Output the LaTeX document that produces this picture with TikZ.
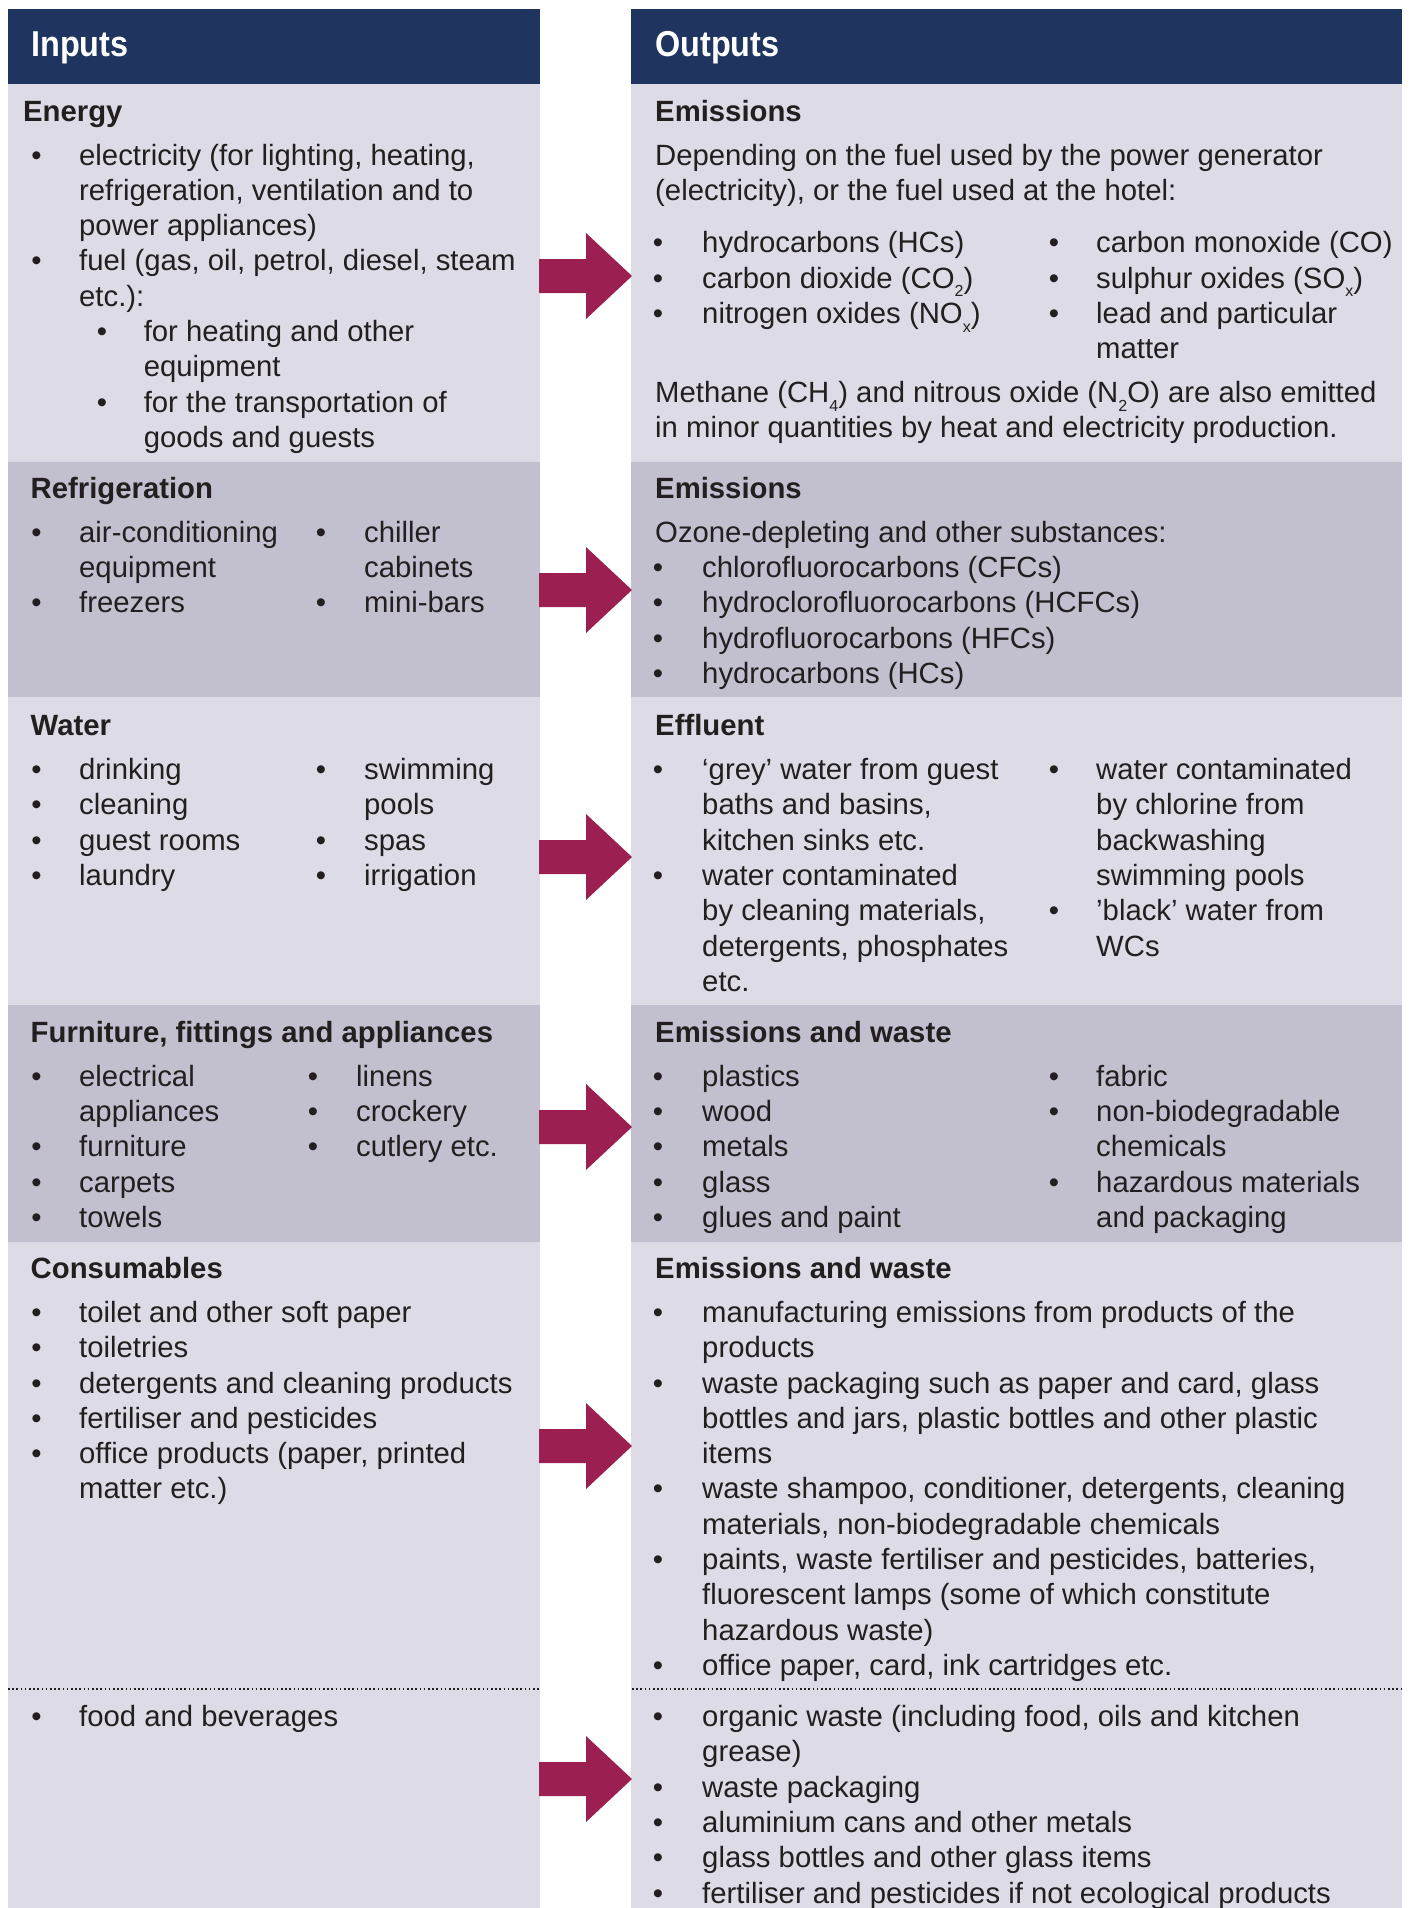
\documentclass[tikz,border=0pt]{standalone}
\usepackage{fontspec}
\setmainfont{Liberation Sans}
\newfontfamily\hdfont{Liberation Sans}[FakeStretch=0.9]
\definecolor{navy}{RGB}{31,53,96}
\definecolor{lightbg}{RGB}{221,220,230}
\definecolor{darkbg}{RGB}{194,191,207}
\definecolor{arrowcol}{RGB}{155,31,80}
\definecolor{textcol}{RGB}{35,31,32}
\newcounter{tl}
\newcommand\Tl[3]{\stepcounter{tl}\node[txt] (t\arabic{tl}) at (#1,#2) {#3};}
\newcommand\Bu[2]{\stepcounter{tl}\node[bul] (b\arabic{tl}) at (#1,#2) {•};}
\newcommand\BT[4]{\Bu{#1}{#3}\Tl{#2}{#3}{#4}}
\newcommand\Hd[3]{\stepcounter{tl}\node[hd] (h\arabic{tl}) at (#1,#2) {#3};}
\newcommand\lowsub[1]{\raisebox{-0.3em}{\fontsize{16}{16}\selectfont #1}}
\newcommand\ArrowAt[2]{\fill[arrowcol] (539,#1-17) -- (586,#1-17) -- (586,#1-43) -- (632,#1) -- (586,#1+43) -- (586,#1+17) -- (539,#1+17) -- cycle; \coordinate (#2) at (632,#1);}
\tikzset{
  txt/.style={anchor=base west, inner sep=0pt, text=textcol, font=\fontsize{29.3}{35}\selectfont},
  bul/.style={anchor=base, inner sep=0pt, text=textcol, font=\fontsize{29.3}{35}\selectfont},
  hd/.style={anchor=base west, inner sep=0pt, text=textcol, font=\fontsize{29.3}{35}\selectfont\bfseries},
  top/.style={anchor=base west, inner sep=0pt, text=white, font=\hdfont\fontsize{36}{40}\selectfont\bfseries},
  dotline/.style={draw=textcol, line width=1.6pt, dash pattern=on 1.6pt off 2.6pt}
}
\begin{document}
\begin{tikzpicture}[x=1pt,y=-1pt]
\useasboundingbox[fill=white] (0,0) rectangle (1408,1908);
% panels
\fill[navy] (8,9) rectangle (540,84);
\fill[navy] (631,9) rectangle (1402,84);
\fill[lightbg] (8,84) rectangle (540,462);
\fill[lightbg] (631,84) rectangle (1402,462);
\fill[darkbg] (8,462) rectangle (540,697);
\fill[darkbg] (631,462) rectangle (1402,697);
\fill[lightbg] (8,697) rectangle (540,1005);
\fill[lightbg] (631,697) rectangle (1402,1005);
\fill[darkbg] (8,1005) rectangle (540,1242);
\fill[darkbg] (631,1005) rectangle (1402,1242);
\fill[lightbg] (8,1242) rectangle (540,1908);
\fill[lightbg] (631,1242) rectangle (1402,1908);
\coordinate (dl1) at (8,1689); \coordinate (dl2) at (540,1689);
\coordinate (dr1) at (632,1689); \coordinate (dr2) at (1402,1689);
\draw[dotline] (dl1) -- (dl2);
\draw[dotline] (dr1) -- (dr2);
% arrows
\ArrowAt{276}{a1}
\ArrowAt{590}{a2}
\ArrowAt{857}{a3}
\ArrowAt{1127}{a4}
\ArrowAt{1446}{a5}
\ArrowAt{1779}{a6}
% headers
\node[top] (inputs) at (31,57) {Inputs};
\node[top] (outputs) at (655,57) {Outputs};
% ---------- Energy ----------
\Hd{23}{121.3}{Energy}
\BT{36.5}{79}{165}{electricity (for lighting, heating,}
\Tl{79}{200.3}{refrigeration, ventilation and to}
\Tl{79}{235.6}{power appliances)}
\BT{36.5}{79}{270.9}{fuel (gas, oil, petrol, diesel, steam}
\Tl{79}{306.2}{etc.):}
\BT{102}{143.6}{341.5}{for heating and other}
\Tl{143.6}{376.8}{equipment}
\BT{102}{143.6}{412.1}{for the transportation of}
\Tl{143.6}{447.4}{goods and guests}
\Hd{655}{121.3}{Emissions}
\Tl{655}{165}{Depending on the fuel used by the power generator}
\Tl{655}{200.3}{(electricity), or the fuel used at the hotel:}
\BT{658}{702}{252.7}{hydrocarbons (HCs)}
\BT{658}{702}{288}{carbon dioxide (CO\lowsub{2})}
\BT{658}{702}{323.3}{nitrogen oxides (NO\lowsub{x})}
\BT{1054}{1096}{252.7}{carbon monoxide (CO)}
\BT{1054}{1096}{288}{sulphur oxides (SO\lowsub{x})}
\BT{1054}{1096}{323.3}{lead and particular}
\Tl{1096}{358.6}{matter}
\Tl{655}{402.4}{Methane (CH\lowsub{4}) and nitrous oxide (N\lowsub{2}O) are also emitted}
\Tl{655}{437.7}{in minor quantities by heat and electricity production.}
% ---------- Refrigeration ----------
\Hd{30.5}{498.5}{Refrigeration}
\BT{36.5}{79}{542.3}{air-conditioning}
\Tl{79}{577.6}{equipment}
\BT{36.5}{79}{612.9}{freezers}
\BT{321}{364}{542.3}{chiller}
\Tl{364}{577.6}{cabinets}
\BT{321}{364}{612.9}{mini-bars}
\Hd{655}{498.5}{Emissions}
\Tl{655}{542.3}{Ozone-depleting and other substances:}
\BT{658}{702}{577.6}{chlorofluorocarbons (CFCs)}
\BT{658}{702}{612.9}{hydroclorofluorocarbons (HCFCs)}
\BT{658}{702}{648.2}{hydrofluorocarbons (HFCs)}
\BT{658}{702}{683.5}{hydrocarbons (HCs)}
% ---------- Water ----------
\Hd{30.5}{735.8}{Water}
\BT{36.5}{79}{779.6}{drinking}
\BT{36.5}{79}{814.9}{cleaning}
\BT{36.5}{79}{850.2}{guest rooms}
\BT{36.5}{79}{885.5}{laundry}
\BT{321}{364}{779.6}{swimming}
\Tl{364}{814.9}{pools}
\BT{321}{364}{850.2}{spas}
\BT{321}{364}{885.5}{irrigation}
\Hd{655}{735.8}{Effluent}
\BT{658}{702}{779.6}{‘grey’ water from guest}
\Tl{702}{814.9}{baths and basins,}
\Tl{702}{850.2}{kitchen sinks etc.}
\BT{658}{702}{885.5}{water contaminated}
\Tl{702}{920.8}{by cleaning materials,}
\Tl{702}{956.1}{detergents, phosphates}
\Tl{702}{991.4}{etc.}
\BT{1054}{1096}{779.6}{water contaminated}
\Tl{1096}{814.9}{by chlorine from}
\Tl{1096}{850.2}{backwashing}
\Tl{1096}{885.5}{swimming pools}
\BT{1054}{1096}{920.8}{’black’ water from}
\Tl{1096}{956.1}{WCs}
% ---------- Furniture ----------
\Hd{30.5}{1042.5}{Furniture, fittings and appliances}
\BT{36.5}{79}{1086.3}{electrical}
\Tl{79}{1121.6}{appliances}
\BT{36.5}{79}{1156.9}{furniture}
\BT{36.5}{79}{1192.2}{carpets}
\BT{36.5}{79}{1227.5}{towels}
\BT{313}{356}{1086.3}{linens}
\BT{313}{356}{1121.6}{crockery}
\BT{313}{356}{1156.9}{cutlery etc.}
\Hd{655}{1042.5}{Emissions and waste}
\BT{658}{702}{1086.3}{plastics}
\BT{658}{702}{1121.6}{wood}
\BT{658}{702}{1156.9}{metals}
\BT{658}{702}{1192.2}{glass}
\BT{658}{702}{1227.5}{glues and paint}
\BT{1054}{1096}{1086.3}{fabric}
\BT{1054}{1096}{1121.6}{non-biodegradable}
\Tl{1096}{1156.9}{chemicals}
\BT{1054}{1096}{1192.2}{hazardous materials}
\Tl{1096}{1227.5}{and packaging}
% ---------- Consumables ----------
\Hd{30.5}{1278.6}{Consumables}
\BT{36.5}{79}{1322.4}{toilet and other soft paper}
\BT{36.5}{79}{1357.7}{toiletries}
\BT{36.5}{79}{1393}{detergents and cleaning products}
\BT{36.5}{79}{1428.3}{fertiliser and pesticides}
\BT{36.5}{79}{1463.6}{office products (paper, printed}
\Tl{79}{1498.9}{matter etc.)}
\Hd{655}{1278.6}{Emissions and waste}
\BT{658}{702}{1322.4}{manufacturing emissions from products of the}
\Tl{702}{1357.7}{products}
\BT{658}{702}{1393}{waste packaging such as paper and card, glass}
\Tl{702}{1428.3}{bottles and jars, plastic bottles and other plastic}
\Tl{702}{1463.6}{items}
\BT{658}{702}{1498.9}{waste shampoo, conditioner, detergents, cleaning}
\Tl{702}{1534.2}{materials, non-biodegradable chemicals}
\BT{658}{702}{1569.5}{paints, waste fertiliser and pesticides, batteries,}
\Tl{702}{1604.8}{fluorescent lamps (some of which constitute}
\Tl{702}{1640.1}{hazardous waste)}
\BT{658}{702}{1675.4}{office paper, card, ink cartridges etc.}
% ---------- Food ----------
\BT{36.5}{79}{1726.5}{food and beverages}
\BT{658}{702}{1726.5}{organic waste (including food, oils and kitchen}
\Tl{702}{1761.8}{grease)}
\BT{658}{702}{1797.1}{waste packaging}
\BT{658}{702}{1832.4}{aluminium cans and other metals}
\BT{658}{702}{1867.7}{glass bottles and other glass items}
\BT{658}{702}{1903}{fertiliser and pesticides if not ecological products}
\end{tikzpicture}
\end{document}
